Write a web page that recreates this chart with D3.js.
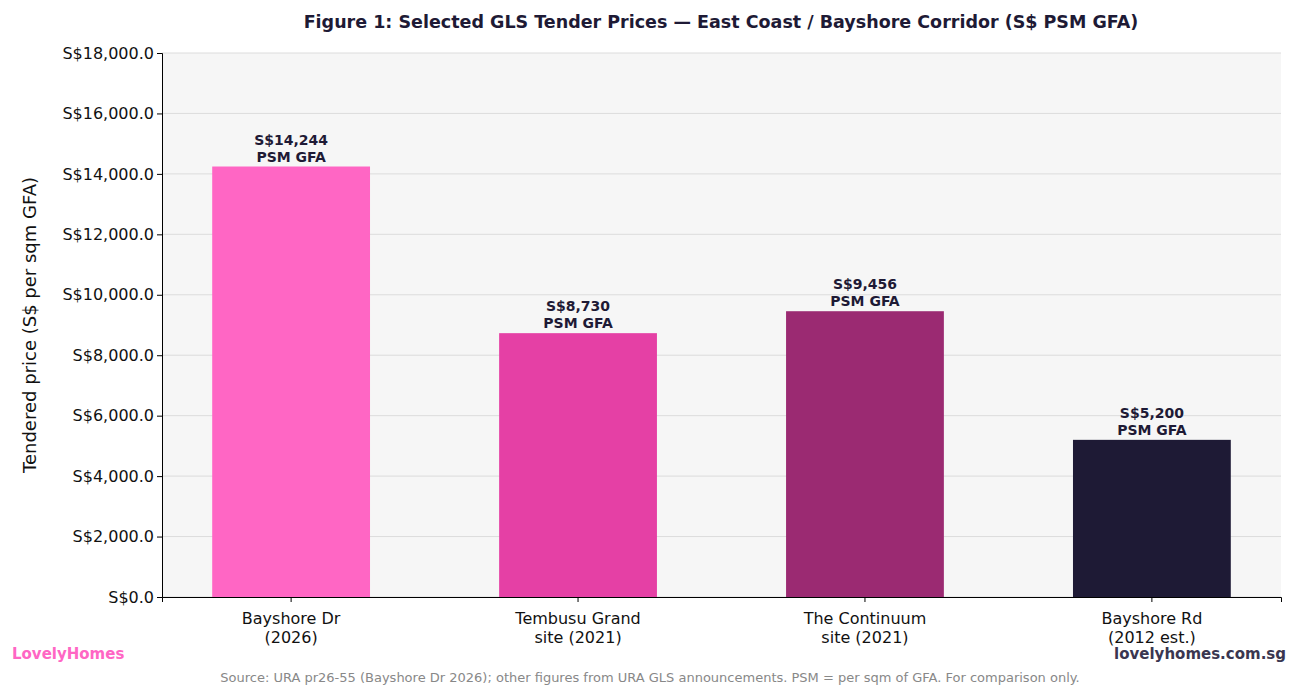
<!doctype html>
<html>
<head>
<meta charset="utf-8">
<script src="https://d3js.org/d3.v7.min.js"></script>
<style>
  body { margin: 0; background: #fff; font-family: "DejaVu Sans", sans-serif; }
</style>
</head>
<body>
<div id="chart"></div>
<script>
var categories = ["Bayshore Dr\n(2026)", "Tembusu Grand\nsite (2021)", "The Continuum\nsite (2021)", "Bayshore Rd\n(2012 est.)"];
var prices = [14244, 8730, 9456, 5200];
var barColors = ["#ff66c4", "#e540a5", "#9b2a72", "#1e1a35"];
var yTicks = [0, 2000, 4000, 6000, 8000, 10000, 12000, 14000, 16000, 18000];

var W = 1300, H = 698;
var margin = {top: 53, right: 19, bottom: 101, left: 162};
var width = W - margin.left - margin.right,
    height = H - margin.top - margin.bottom;

var svg = d3.select("#chart").append("svg")
  .attr("width", W).attr("height", H)
  .style("font-family", "DejaVu Sans, sans-serif");

var g = svg.append("g").attr("transform", "translate(" + margin.left + "," + margin.top + ")");

var x = d3.scaleBand().domain(categories).range([0, width]).paddingInner(0.45).paddingOuter(0.175);
var y = d3.scaleLinear().domain([0, 18000]).range([height, 0]);

g.append("rect").attr("width", width).attr("height", height).attr("fill", "#f6f6f6");

// gridlines
g.selectAll(".grid").data(yTicks).enter().append("line")
  .attr("x1", 0).attr("x2", width)
  .attr("y1", function(d){ return y(d); }).attr("y2", function(d){ return y(d); })
  .attr("stroke", "#dcdcdc").attr("stroke-width", 1);

// bars
g.selectAll(".bar").data(prices).enter().append("rect")
  .attr("x", function(d, i){ return x(categories[i]); })
  .attr("y", function(d){ return y(d); })
  .attr("width", x.bandwidth())
  .attr("height", function(d){ return height - y(d); })
  .attr("fill", function(d, i){ return barColors[i]; });

// value labels
var lab = g.selectAll(".lab").data(prices).enter().append("text")
  .attr("text-anchor", "middle")
  .attr("font-size", 14).attr("font-weight", "bold").attr("fill", "#1e1a35");
lab.append("tspan")
  .attr("x", function(d, i){ return x(categories[i]) + x.bandwidth()/2; })
  .attr("y", function(d){ return y(d) - 22; })
  .text(function(d){ return "S$" + d3.format(",")(d); });
lab.append("tspan")
  .attr("x", function(d, i){ return x(categories[i]) + x.bandwidth()/2; })
  .attr("y", function(d){ return y(d) - 5; })
  .text("PSM GFA");

// axes
var yAxis = g.append("g").call(d3.axisLeft(y).tickValues(yTicks).tickSize(5)
  .tickFormat(function(d){ return "S$" + d3.format(",.1f")(d); }));
yAxis.selectAll("text").attr("font-size", 16).attr("fill", "#111").style("font-family", "DejaVu Sans, sans-serif");

var xAxis = g.append("g").attr("transform", "translate(0," + height + ")")
  .call(d3.axisBottom(x).tickSize(5).tickFormat(""));
xAxis.selectAll(".tick").each(function(d){
  var t = d3.select(this).append("text").attr("fill", "#111").attr("font-size", 16)
    .attr("text-anchor", "middle").style("font-family", "DejaVu Sans, sans-serif");
  d.split("\n").forEach(function(line, i){
    t.append("tspan").attr("x", 0).attr("y", 27 + i * 19).text(line);
  });
});
g.selectAll(".domain").attr("stroke", "#000");

// y label
svg.append("text")
  .attr("transform", "translate(36," + (margin.top + height/2) + ") rotate(-90)")
  .attr("text-anchor", "middle").attr("font-size", 18).attr("fill", "#111")
  .text("Tendered price (S$ per sqm GFA)");

// title
svg.append("text").attr("x", 721).attr("y", 28).attr("text-anchor", "middle")
  .attr("font-size", 17.5).attr("font-weight", "bold").attr("fill", "#1e1a35")
  .text("Figure 1: Selected GLS Tender Prices \u2014 East Coast / Bayshore Corridor (S$ PSM GFA)");

// footer
svg.append("text").attr("x", 12).attr("y", 659).attr("font-size", 15).attr("font-weight", "bold")
  .attr("fill", "#ff66c4").text("LovelyHomes");
svg.append("text").attr("x", 1286).attr("y", 659).attr("text-anchor", "end").attr("font-size", 15)
  .attr("font-weight", "bold").attr("fill", "#3a3650").text("lovelyhomes.com.sg");
svg.append("text").attr("x", 650).attr("y", 682).attr("text-anchor", "middle").attr("font-size", 13)
  .attr("fill", "#888").text("Source: URA pr26-55 (Bayshore Dr 2026); other figures from URA GLS announcements. PSM = per sqm of GFA. For comparison only.");
</script>
</body>
</html>
